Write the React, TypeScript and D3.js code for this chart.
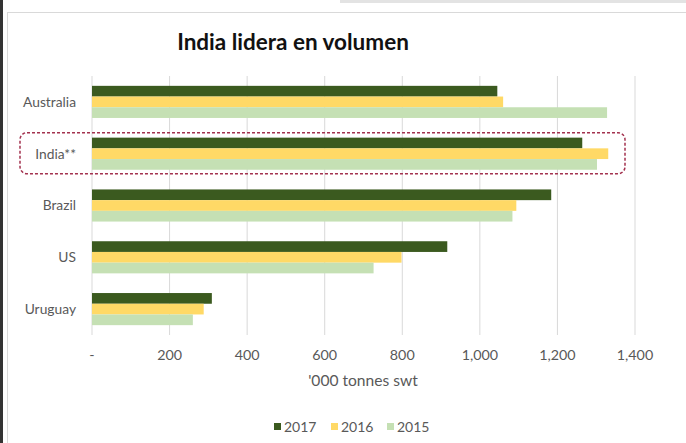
import React, { useRef, useEffect } from 'react';
import * as d3 from 'd3';

const categories = ['Australia', 'India**', 'Brazil', 'US', 'Uruguay'];
const seriesNames = ['2017', '2016', '2015'];
const values2017 = [1045, 1264, 1184, 916, 309];
const values2016 = [1060, 1331, 1094, 798, 288];
const values2015 = [1328, 1302, 1084, 726, 260];
const xTicks = [0, 200, 400, 600, 800, 1000, 1200, 1400];
const colors = ['#3b5a1f', '#ffd966', '#c5e0b4'];

function App() {
  const svgRef = useRef<SVGSVGElement>(null);

  useEffect(() => {
    const width = 686;
    const height = 443;
    const svg = d3.select(svgRef.current).attr('width', width).attr('height', height);
    svg.selectAll('*').remove();

    const font = 'Lato, "Open Sans", sans-serif';
    const seriesValues = [values2017, values2016, values2015];

    // frame
    svg.append('rect').attr('x', 0).attr('y', 0).attr('width', width).attr('height', height).attr('fill', '#fff');
    svg.append('rect').attr('x', 0).attr('y', 0).attr('width', 3).attr('height', height).attr('fill', '#333');
    svg.append('rect').attr('x', 340).attr('y', 0).attr('width', 346).attr('height', 3).attr('fill', '#e3e3e3');
    svg
      .append('rect')
      .attr('x', 7.5)
      .attr('y', 12.5)
      .attr('width', width)
      .attr('height', height)
      .attr('fill', 'none')
      .attr('stroke', '#d9d9d9');

    const xScale = d3.scaleLinear().domain([0, 1400]).range([92, 635]);
    const yScale = d3
      .scaleBand()
      .domain(categories)
      .range([76, 335])
      .paddingInner(0.38)
      .paddingOuter(0.19);
    const ySub = d3.scaleBand().domain(seriesNames).range([0, yScale.bandwidth()]);

    // gridlines
    svg
      .selectAll('.grid')
      .data(xTicks)
      .join('line')
      .attr('class', 'grid')
      .attr('x1', (d) => xScale(d))
      .attr('x2', (d) => xScale(d))
      .attr('y1', 76)
      .attr('y2', 335)
      .attr('stroke', '#d9d9d9')
      .attr('stroke-width', 1);

    // bars
    seriesNames.forEach((name, si) => {
      svg
        .selectAll(`.bar-${name}`)
        .data(categories)
        .join('rect')
        .attr('class', `bar-${name}`)
        .attr('x', xScale(0))
        .attr('y', (c) => (yScale(c) as number) + (ySub(name) as number))
        .attr('width', (c, i) => xScale(seriesValues[si][i]) - xScale(0))
        .attr('height', ySub.bandwidth())
        .attr('fill', colors[si]);
    });

    // category labels
    svg
      .selectAll('.cat')
      .data(categories)
      .join('text')
      .attr('class', 'cat')
      .attr('x', 76)
      .attr('y', (c) => (yScale(c) as number) + yScale.bandwidth() / 2)
      .attr('dy', '0.35em')
      .attr('text-anchor', 'end')
      .attr('font-family', font)
      .attr('font-size', 13.8)
      .attr('fill', '#595959')
      .text((c) => c);

    // tick labels
    svg
      .selectAll('.tick')
      .data(xTicks)
      .join('text')
      .attr('class', 'tick')
      .attr('x', (d) => xScale(d))
      .attr('y', 355)
      .attr('dy', '0.35em')
      .attr('text-anchor', 'middle')
      .attr('font-family', font)
      .attr('font-size', 14.3)
      .attr('fill', '#595959')
      .text((d) => (d === 0 ? '-' : d3.format(',')(d)));

    // axis title
    svg
      .append('text')
      .attr('x', 363)
      .attr('y', 381)
      .attr('dy', '0.35em')
      .attr('text-anchor', 'middle')
      .attr('font-family', font)
      .attr('font-size', 15.6)
      .attr('fill', '#595959')
      .text("'000 tonnes swt");

    // title
    svg
      .append('text')
      .attr('x', 293)
      .attr('y', 42)
      .attr('dy', '0.35em')
      .attr('text-anchor', 'middle')
      .attr('font-family', font)
      .attr('font-weight', 'bold')
      .attr('font-size', 22.5)
      .attr('fill', '#111')
      .text('India lidera en volumen');

    // India highlight box
    const iy = yScale('India**') as number;
    svg
      .append('rect')
      .attr('x', 20)
      .attr('y', iy - 5)
      .attr('width', 605)
      .attr('height', yScale.bandwidth() + 9)
      .attr('rx', 7)
      .attr('fill', 'none')
      .attr('stroke', '#a3324f')
      .attr('stroke-width', 1.5)
      .attr('stroke-dasharray', '3,2');

    // legend
    const legendX = [274, 331, 387];
    seriesNames.forEach((name, si) => {
      svg
        .append('rect')
        .attr('x', legendX[si])
        .attr('y', 423)
        .attr('width', 7)
        .attr('height', 7)
        .attr('fill', colors[si]);
      svg
        .append('text')
        .attr('x', legendX[si] + 10)
        .attr('y', 427)
        .attr('dy', '0.35em')
        .attr('font-family', font)
        .attr('font-size', 14)
        .attr('fill', '#595959')
        .text(name);
    });
  }, []);

  return <svg ref={svgRef} style={{ position: 'absolute', left: 0, top: 0, display: 'block' }} />;
}

export default App;
